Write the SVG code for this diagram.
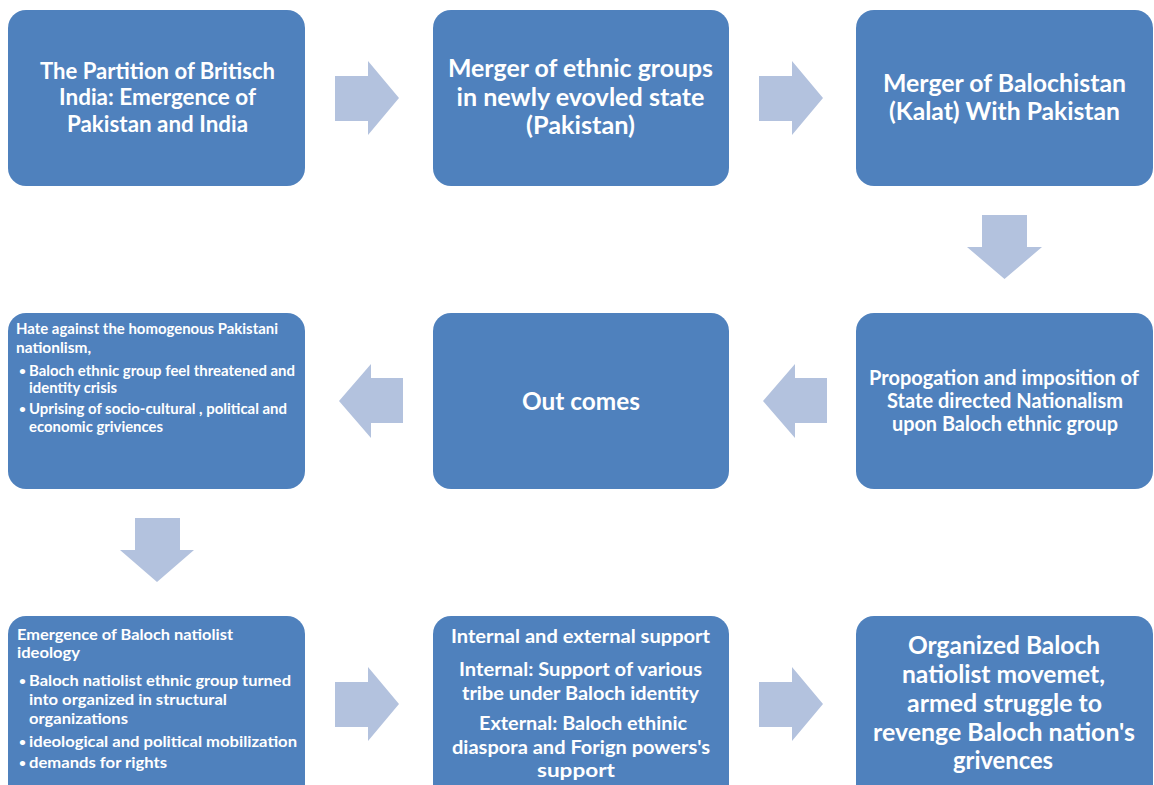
<svg xmlns="http://www.w3.org/2000/svg" width="1154" height="785" viewBox="0 0 1154 785">
  <style>
    .box { fill: #4F81BD; }
    .arrow { fill: #B3C2DE; }
    text { font-family: Lato, "Open Sans", "Liberation Sans", sans-serif; font-weight: bold; fill: #FFFFFF; }
    .c { text-anchor: middle; }
    .t24 { font-size: 24px; }
    .t22 { font-size: 22px; }
    .t20 { font-size: 20px; }
    .t19 { font-size: 19px; }
    .t16 { font-size: 16px; }
    .t15 { font-size: 15px; }
    .dot { font-size: 12px; }
  </style>

  <!-- Row 1 -->
  <g id="node-partition">
    <rect class="box" x="8" y="10" width="297" height="176" rx="18"/>
    <text class="c t22" x="157.5" y="79" textLength="235" lengthAdjust="spacingAndGlyphs">The Partition of Britisch</text>
    <text class="c t22" x="157.5" y="105" textLength="197" lengthAdjust="spacingAndGlyphs">India: Emergence of</text>
    <text class="c t22" x="157.5" y="132" textLength="181" lengthAdjust="spacingAndGlyphs">Pakistan and India</text>
  </g>

  <g id="node-merger-ethnic">
    <rect class="box" x="433" y="10" width="296" height="176" rx="18"/>
    <text class="c t24" x="580.5" y="77" textLength="265" lengthAdjust="spacingAndGlyphs">Merger of ethnic groups</text>
    <text class="c t24" x="580.5" y="106" textLength="248" lengthAdjust="spacingAndGlyphs">in newly evovled state</text>
    <text class="c t24" x="580.5" y="134" textLength="109" lengthAdjust="spacingAndGlyphs">(Pakistan)</text>
  </g>

  <g id="node-merger-balochistan">
    <rect class="box" x="856" y="10" width="297" height="176" rx="18"/>
    <text class="c t24" x="1004.5" y="92" textLength="243" lengthAdjust="spacingAndGlyphs">Merger of Balochistan</text>
    <text class="c t24" x="1004.5" y="120" textLength="231" lengthAdjust="spacingAndGlyphs">(Kalat) With Pakistan</text>
  </g>

  <!-- Row 2 -->
  <g id="node-hate">
    <rect class="box" x="8" y="313" width="297" height="176" rx="18"/>
    <text class="t15" x="16" y="334" textLength="262" lengthAdjust="spacingAndGlyphs">Hate against the homogenous Pakistani</text>
    <text class="t15" x="16" y="353" textLength="75" lengthAdjust="spacingAndGlyphs">nationlism,</text>
    <text class="dot" x="19" y="375">•</text>
    <text class="t15" x="29" y="376" textLength="266" lengthAdjust="spacingAndGlyphs">Baloch ethnic group feel threatened and</text>
    <text class="t15" x="29" y="393" textLength="88" lengthAdjust="spacingAndGlyphs">identity crisis</text>
    <text class="dot" x="19" y="413">•</text>
    <text class="t15" x="29" y="414" textLength="258" lengthAdjust="spacingAndGlyphs">Uprising of socio-cultural , political and</text>
    <text class="t15" x="29" y="432" textLength="134" lengthAdjust="spacingAndGlyphs">economic griviences</text>
  </g>

  <g id="node-outcomes">
    <rect class="box" x="433" y="313" width="296" height="176" rx="18"/>
    <text class="c t24" x="581" y="410" textLength="118" lengthAdjust="spacingAndGlyphs">Out comes</text>
  </g>

  <g id="node-propagation">
    <rect class="box" x="856" y="313" width="297" height="176" rx="18"/>
    <text class="c t20" x="1004" y="385" textLength="270" lengthAdjust="spacingAndGlyphs">Propogation and imposition of</text>
    <text class="c t20" x="1005" y="408" textLength="236" lengthAdjust="spacingAndGlyphs">State directed Nationalism</text>
    <text class="c t20" x="1005" y="431" textLength="226" lengthAdjust="spacingAndGlyphs">upon Baloch ethnic group</text>
  </g>

  <!-- Row 3 -->
  <g id="node-ideology">
    <rect class="box" x="8" y="616" width="297" height="190" rx="18"/>
    <text class="t16" x="17" y="640" textLength="216" lengthAdjust="spacingAndGlyphs">Emergence of Baloch natiolist</text>
    <text class="t16" x="17" y="658" textLength="63" lengthAdjust="spacingAndGlyphs">ideology</text>
    <text class="dot" x="19" y="685">•</text>
    <text class="t16" x="29" y="686" textLength="262" lengthAdjust="spacingAndGlyphs">Baloch natiolist ethnic group turned</text>
    <text class="t16" x="29" y="705" textLength="198" lengthAdjust="spacingAndGlyphs">into organized in structural</text>
    <text class="t16" x="29" y="724" textLength="99" lengthAdjust="spacingAndGlyphs">organizations</text>
    <text class="dot" x="19" y="746">•</text>
    <text class="t16" x="29" y="747" textLength="268" lengthAdjust="spacingAndGlyphs">ideological and political mobilization</text>
    <text class="dot" x="19" y="767">•</text>
    <text class="t16" x="29" y="768" textLength="138" lengthAdjust="spacingAndGlyphs">demands for rights</text>
  </g>

  <g id="node-support">
    <rect class="box" x="433" y="616" width="296" height="190" rx="18"/>
    <text class="c t19" x="580.5" y="643" textLength="259" lengthAdjust="spacingAndGlyphs">Internal and external support</text>
    <text class="c t19" x="580.5" y="676" textLength="243" lengthAdjust="spacingAndGlyphs">Internal: Support of various</text>
    <text class="c t19" x="580.5" y="700" textLength="237" lengthAdjust="spacingAndGlyphs">tribe under Baloch identity</text>
    <text class="c t19" x="583" y="730" textLength="208" lengthAdjust="spacingAndGlyphs">External: Baloch ethinic</text>
    <text class="c t19" x="581" y="754" textLength="258" lengthAdjust="spacingAndGlyphs">diaspora and Forign powers's</text>
    <text class="c t19" x="576" y="777" textLength="78" lengthAdjust="spacingAndGlyphs">support</text>
  </g>

  <g id="node-movement">
    <rect class="box" x="856" y="616" width="297" height="190" rx="18"/>
    <text class="c t24" x="1004" y="654" textLength="192" lengthAdjust="spacingAndGlyphs">Organized Baloch</text>
    <text class="c t24" x="1003.5" y="683" textLength="203" lengthAdjust="spacingAndGlyphs">natiolist movemet,</text>
    <text class="c t24" x="1004.5" y="712" textLength="195" lengthAdjust="spacingAndGlyphs">armed struggle to</text>
    <text class="c t24" x="1004" y="741" textLength="262" lengthAdjust="spacingAndGlyphs">revenge Baloch nation's</text>
    <text class="c t24" x="1003" y="769" textLength="100" lengthAdjust="spacingAndGlyphs">grivences</text>
  </g>

  <!-- Block arrows between steps -->
  <g id="connectors">
    <polygon class="arrow" points="335,76 368,76 368,61 399,98 368,135 368,121 335,121"/>
    <polygon class="arrow" points="759,76 792,76 792,61 823,98 792,135 792,121 759,121"/>
    <polygon class="arrow" points="982,215 1027,215 1027,247 1042,247 1004.5,279 967,247 982,247"/>
    <polygon class="arrow" points="827,378 795,378 795,364 763,401 795,438 795,423 827,423"/>
    <polygon class="arrow" points="403,378 371,378 371,364 339,401 371,438 371,423 403,423"/>
    <polygon class="arrow" points="135,518 180,518 180,550 194,550 157,582 120,550 135,550"/>
    <polygon class="arrow" points="335,682 368,682 368,667 399,704 368,741 368,727 335,727"/>
    <polygon class="arrow" points="759,682 792,682 792,667 823,704 792,741 792,727 759,727"/>
  </g>
</svg>
